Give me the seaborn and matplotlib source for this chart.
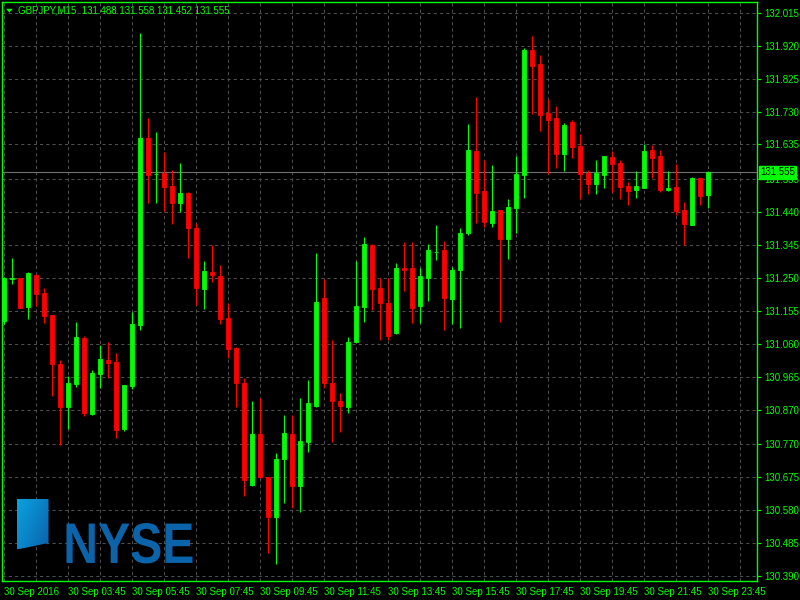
import numpy as np
import matplotlib
matplotlib.use("Agg")
import matplotlib.pyplot as plt
import seaborn as sns
from matplotlib.patches import PathPatch, Polygon
from matplotlib.textpath import TextPath
from matplotlib.font_manager import FontProperties
from matplotlib.transforms import Affine2D

# GBPJPY M15 bars for 30 Sep 2016
opens = [131.127, 131.248, 131.249, 131.166, 131.260, 131.208, 131.142, 131.001, 130.877, 130.944,
         131.078, 130.859, 130.973, 131.014, 131.009, 130.813, 130.937, 131.114, 131.653, 131.549,
         131.552, 131.514, 131.467, 131.495, 131.394, 131.218, 131.266, 131.257, 131.134, 131.049,
         130.947, 130.652, 130.801, 130.676, 130.562, 130.727, 130.801, 130.649, 130.778, 130.880,
         131.191, 130.948, 130.896, 130.877, 131.065, 131.166, 131.346, 131.220, 131.177, 131.090,
         131.280, 131.278, 131.168, 131.251, 131.324, 131.330, 131.188, 131.272, 131.379, 131.615,
         131.500, 131.410, 131.445, 131.362, 131.451, 131.546, 131.907, 131.867, 131.727, 131.711,
         131.607, 131.699, 131.630, 131.552, 131.521, 131.547, 131.598, 131.583, 131.514, 131.504,
         131.510, 131.620, 131.601, 131.505, 131.511, 131.445, 131.403, 131.538, 131.488]
highs = [131.253, 131.307, 131.251, 131.266, 131.262, 131.220, 131.143, 131.012, 130.967, 131.124,
         131.084, 130.985, 131.056, 131.066, 131.035, 130.942, 131.153, 131.957, 131.711, 131.670,
         131.612, 131.561, 131.581, 131.499, 131.408, 131.298, 131.344, 131.288, 131.179, 131.050,
         130.962, 130.896, 130.905, 130.677, 130.746, 130.856, 130.856, 130.903, 130.957, 131.321,
         131.246, 131.070, 130.917, 131.081, 131.298, 131.367, 131.347, 131.249, 131.251, 131.294,
         131.354, 131.354, 131.280, 131.349, 131.404, 131.358, 131.282, 131.394, 131.693, 131.771,
         131.590, 131.575, 131.446, 131.477, 131.602, 131.913, 131.948, 131.894, 131.765, 131.746,
         131.697, 131.705, 131.664, 131.561, 131.590, 131.602, 131.616, 131.590, 131.526, 131.558,
         131.636, 131.633, 131.620, 131.558, 131.578, 131.468, 131.540, 131.539, 131.558]
lows = [131.117, 131.233, 131.162, 131.132, 131.169, 131.121, 130.909, 130.769, 130.813, 130.935,
        130.851, 130.856, 130.932, 130.962, 130.789, 130.810, 130.930, 131.099, 131.466, 131.466,
        131.442, 131.406, 131.439, 131.308, 131.173, 131.160, 131.238, 131.117, 131.018, 130.877,
        130.622, 130.651, 130.674, 130.457, 130.424, 130.602, 130.586, 130.576, 130.748, 130.879,
        130.932, 130.777, 130.805, 130.862, 131.064, 131.122, 131.157, 131.071, 131.071, 131.089,
        131.212, 131.121, 131.119, 131.183, 131.301, 131.099, 131.116, 131.107, 131.373, 131.410,
        131.398, 131.398, 131.122, 131.305, 131.379, 131.480, 131.724, 131.674, 131.550, 131.568,
        131.558, 131.596, 131.478, 131.492, 131.492, 131.509, 131.497, 131.478, 131.460, 131.482,
        131.509, 131.539, 131.499, 131.501, 131.432, 131.346, 131.402, 131.460, 131.452]
closes = [131.251, 131.250, 131.164, 131.264, 131.204, 131.140, 131.002, 130.877, 130.948, 131.081,
          130.862, 130.975, 131.015, 131.004, 130.811, 130.940, 131.116, 131.653, 131.547, 131.551,
          131.512, 131.467, 131.495, 131.395, 131.222, 131.269, 131.258, 131.132, 131.045, 130.947,
          130.667, 130.801, 130.675, 130.562, 130.729, 130.803, 130.649, 130.780, 130.888, 131.181,
          130.947, 130.894, 130.880, 131.066, 131.168, 131.349, 131.218, 131.178, 131.084, 131.280,
          131.272, 131.163, 131.257, 131.330, 131.326, 131.191, 131.272, 131.379, 131.618, 131.496,
          131.412, 131.442, 131.363, 131.456, 131.549, 131.907, 131.861, 131.719, 131.705, 131.607,
          131.690, 131.627, 131.550, 131.521, 131.554, 131.601, 131.578, 131.512, 131.501, 131.514,
          131.615, 131.597, 131.503, 131.509, 131.442, 131.405, 131.538, 131.486, 131.555]

time_labels = ["30 Sep 2016", "30 Sep 03:45", "30 Sep 05:45", "30 Sep 07:45", "30 Sep 09:45",
               "30 Sep 11:45", "30 Sep 13:45", "30 Sep 15:45", "30 Sep 17:45", "30 Sep 19:45",
               "30 Sep 21:45", "30 Sep 23:45"]
price_labels = [132.015, 131.920, 131.825, 131.730, 131.635, 131.535, 131.440, 131.345, 131.250,
                131.155, 131.060, 130.965, 130.870, 130.770, 130.675, 130.580, 130.485, 130.390]
symbol = "GBPJPY,M15"
bid = 131.555

FG = "#00ff00"
BULL = "#00ff00"
BEAR = "#ff0000"
GRID = "#4f4f4f"

sns.set_theme(style="dark", rc={
    "axes.facecolor": "black",
    "figure.facecolor": "black",
    "savefig.facecolor": "black",
    "axes.edgecolor": FG,
    "text.color": FG,
    "xtick.color": FG,
    "ytick.color": FG,
})
plt.rcParams["font.family"] = ["Liberation Sans", "DejaVu Sans"]

fig = plt.figure(figsize=(8, 6), dpi=100)
ax = fig.add_axes([2 / 800, 19 / 600, 755 / 800, 579 / 600])

o = np.array(opens)
h = np.array(highs)
l = np.array(lows)
c = np.array(closes)
x = np.arange(len(o))
cols = [BULL if cc >= oo else BEAR for oo, cc in zip(o, c)]

# wicks then bodies
ax.vlines(x, l, h, colors=cols, linewidth=0.8, zorder=3)
ax.bar(x, np.maximum(np.abs(c - o), 0.0006), bottom=np.minimum(o, c), width=0.56,
       color=cols, edgecolor=cols, linewidth=0.6, zorder=4)

# bid line
ax.axhline(bid, color="#707070", linewidth=0.8, zorder=2)

ax.set_xlim(-0.25, 94.125)
ax.set_ylim(130.376, 132.046)

major_x = np.arange(0, len(o), 8)
ax.set_xticks(major_x)
ax.set_xticklabels(time_labels)
ax.set_xticks(np.arange(0, 95, 4), minor=True)
for lbl in ax.get_xticklabels():
    lbl.set_ha("left")
ax.set_yticks(price_labels)
ax.set_yticklabels([f"{p:.3f}" for p in price_labels])
ax.yaxis.tick_right()

ax.tick_params(axis="x", which="major", labelsize=7, length=3, width=0.8, pad=1, colors=FG)
ax.tick_params(axis="x", which="minor", length=0)
ax.tick_params(axis="y", labelsize=7, length=3, width=0.8, pad=2, colors=FG, right=True, left=False)

ax.grid(True, which="both", axis="x", color=GRID, linestyle=(0, (3, 3)), linewidth=0.75)
ax.grid(True, which="major", axis="y", color=GRID, linestyle=(0, (3, 3)), linewidth=0.75)
ax.set_axisbelow(True)
for s in ax.spines.values():
    s.set_visible(True)
    s.set_color(FG)
    s.set_linewidth(1.0)

# bid label on the price scale
ax.text(1.004, bid, f"{bid:.3f}", transform=ax.get_yaxis_transform(), fontsize=7,
        color="black", va="center", ha="left", zorder=10, clip_on=False,
        bbox=dict(boxstyle="square,pad=0.15", facecolor=FG, edgecolor=FG))

# overlay in pixel coordinates for header and logo
lax = fig.add_axes([0, 0, 1, 1])
lax.set_xlim(0, 800)
lax.set_ylim(600, 0)
lax.axis("off")
lax.patch.set_alpha(0)

lax.fill([6, 12.7, 9.35], [8.8, 8.8, 12.6], color=FG, lw=0)
lax.text(18, 10.5, f"{symbol}  {opens[-1]:.3f} {highs[-1]:.3f} {lows[-1]:.3f} {closes[-1]:.3f}",
         fontsize=7, color=FG, va="center", ha="left")

# NYSE logo
icon = Polygon([(17, 499), (48.5, 499), (48.5, 543), (17, 549.5)], closed=True,
               facecolor="none", edgecolor="none")
lax.add_patch(icon)
gx, gy = np.meshgrid(np.linspace(0, 1, 40), np.linspace(0, 1, 60))
grad = gx * 0.6 + gy * 0.4
cmap = matplotlib.colors.LinearSegmentedColormap.from_list("nyse", ["#0aa3e0", "#0a62ad"])
im = lax.imshow(grad, extent=(17, 48.5, 549.5, 499), cmap=cmap, interpolation="bilinear",
                aspect="auto", zorder=5)
im.set_clip_path(icon)
lax.set_xlim(0, 800)
lax.set_ylim(600, 0)

tp = TextPath((0, 0), "NYSE", size=100,
              prop=FontProperties(family="Liberation Sans", weight="bold"))
ext = tp.get_extents()
tr = Affine2D().translate(-ext.x0, -ext.y0).scale(126 / ext.width, -40.5 / ext.height).translate(66.5, 563.5)
lax.add_patch(PathPatch(tr.transform_path(tp), facecolor="#0b64a9", edgecolor="none", zorder=5))

fig.savefig("out.png", dpi=100, facecolor="black")
